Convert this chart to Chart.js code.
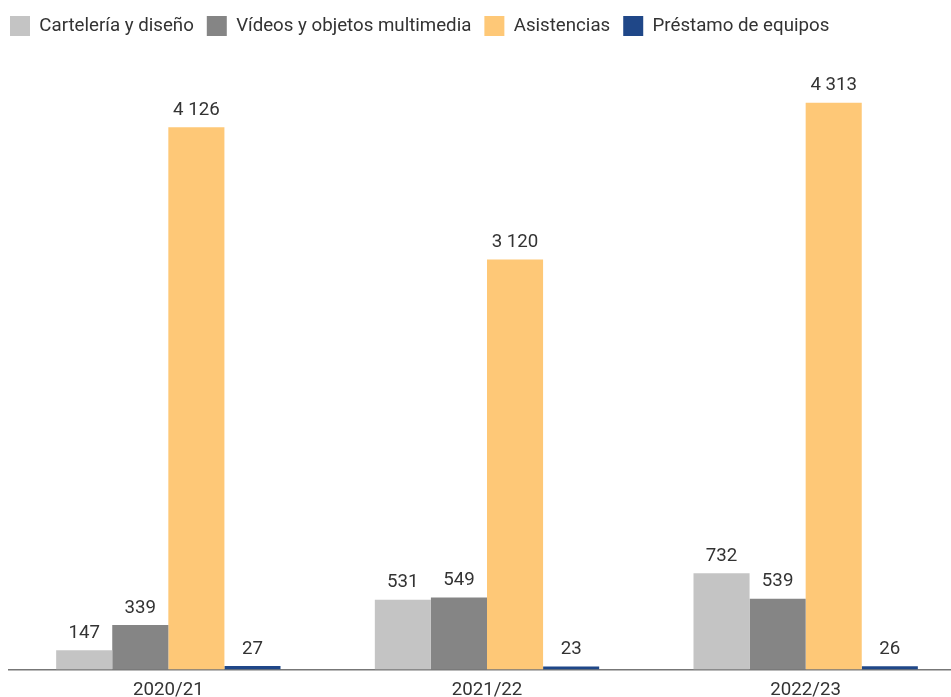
<!DOCTYPE html>
<html><head><meta charset="utf-8">
<script src="https://cdn.jsdelivr.net/npm/chart.js@4/dist/chart.umd.min.js"></script>
<style>
html,body{margin:0;padding:0;background:#fff;overflow:hidden;}
#wrap{position:absolute;left:0;top:0;width:965px;height:697px;}
</style></head>
<body><div id="wrap"><canvas id="c"></canvas></div>
<script>
const categories = ['2020/21', '2021/22', '2022/23'];
const seriesNames = ['Cartelería y diseño', 'Vídeos y objetos multimedia', 'Asistencias', 'Préstamo de equipos'];
const carteleria = [147, 531, 732];
const videos = [339, 549, 539];
const asistencias = [4126, 3120, 4313];
const prestamo = [27, 23, 26];
const colors = ['#c4c4c4', '#858585', '#fec877', '#1f4788'];

const FONT = 18.7;
function fmt(v){ return String(v).replace(/\B(?=(\d{3})+(?!\d))/g, ' '); }

const labelPlugin = {
  id: 'vlabels',
  afterLayout(chart){
    if (chart.legend) { chart.legend.left -= 12; }
  },
  afterDatasetsDraw(chart){
    const ctx = chart.ctx;
    ctx.save();
    ctx.font = FONT + 'px Roboto';
    ctx.fillStyle = '#333';
    ctx.textAlign = 'center';
    ctx.textBaseline = 'alphabetic';
    chart.data.datasets.forEach((ds, i) => {
      chart.getDatasetMeta(i).data.forEach((bar, j) => {
        ctx.fillText(fmt(ds.data[j]), bar.x, bar.y - 12.5);
      });
    });
    ctx.restore();
  }
};

new Chart(document.getElementById('c'), {
  type: 'bar',
  data: {
    labels: categories,
    datasets: [carteleria, videos, asistencias, prestamo].map((d, i) => ({
      label: seriesNames[i], data: d, backgroundColor: colors[i],
      barPercentage: 1.0, categoryPercentage: 0.704
    }))
  },
  options: {
    responsive: true, maintainAspectRatio: false, animation: false,
    layout: { padding: { left: 9, right: 0, top: 3, bottom: -15 } },
    plugins: {
      legend: {
        align: 'start',
        labels: { boxWidth: 20, boxHeight: 20, padding: 13, color: '#333', font: { family: 'Roboto', size: FONT } }
      },
      tooltip: { enabled: false }
    },
    scales: {
      x: {
        grid: { display: false, drawTicks: false },
        border: { display: true, color: '#777', width: 1.5 },
        ticks: { color: '#333', font: { family: 'Roboto', size: FONT }, padding: 10 }
      },
      y: {
        display: false, min: 0, max: 4745
      }
    }
  },
  plugins: [labelPlugin]
});
</script></body></html>
